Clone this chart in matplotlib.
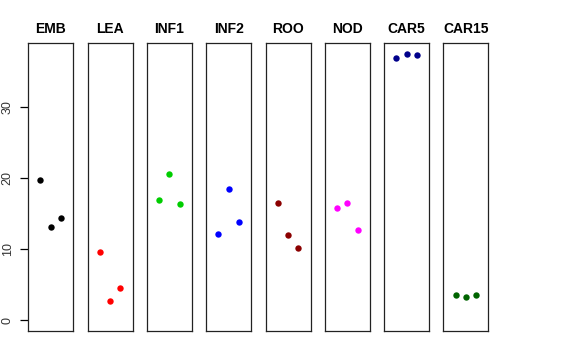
import matplotlib
matplotlib.use("Agg")
import matplotlib.pyplot as plt

plt.rcParams['font.family'] = ['Liberation Sans', 'DejaVu Sans']

categories = ["EMB", "LEA", "INF1", "INF2", "ROO", "NOD", "CAR5", "CAR15"]
colors = ["black", "#FF0000", "#00CD00", "#0000FF", "#8B0000", "#FF00FF", "#00008B", "#006400"]
replicate = [1, 2, 3]
values = {
    "EMB":   [19.72, 13.14, 14.37],
    "LEA":   [9.62, 2.72, 4.55],
    "INF1":  [16.99, 20.56, 16.38],
    "INF2":  [12.11, 18.49, 13.89],
    "ROO":   [16.57, 11.97, 10.14],
    "NOD":   [15.86, 16.52, 12.76],
    "CAR5":  [36.99, 37.55, 37.37],
    "CAR15": [3.61, 3.28, 3.56],
}
yticks = [0, 10, 20, 30]

W, H = 576, 360
fig = plt.figure(figsize=(W / 100, H / 100), dpi=100)

left0 = 28.3
pitch = 59.3
pw = 45.0
top_px = 42.7
bot_px = 331.0

for i, cat in enumerate(categories):
    x0 = left0 + i * pitch
    ax = fig.add_axes([x0 / W, (H - bot_px) / H, pw / W, (bot_px - top_px) / H])
    ax.plot(replicate, values[cat], 'o', color=colors[i], markersize=4.6, markeredgewidth=0)
    ax.set_xlim(-0.18, 4.18)
    ax.set_ylim(-1.5, 39.1)
    ax.set_xticks([])
    for s in ax.spines.values():
        s.set_linewidth(0.9)
        s.set_color("#222222")
    ax.set_title(cat, fontsize=10, fontweight='bold', pad=7)
    if i == 0:
        ax.set_yticks(yticks)
        ax.set_yticklabels([str(t) for t in yticks], rotation=90, va='center', fontsize=9, color="#333333")
        ax.tick_params(axis='y', length=5.5, width=0.9, pad=5)
    else:
        ax.set_yticks([])

fig.savefig("out.png", dpi=100)
